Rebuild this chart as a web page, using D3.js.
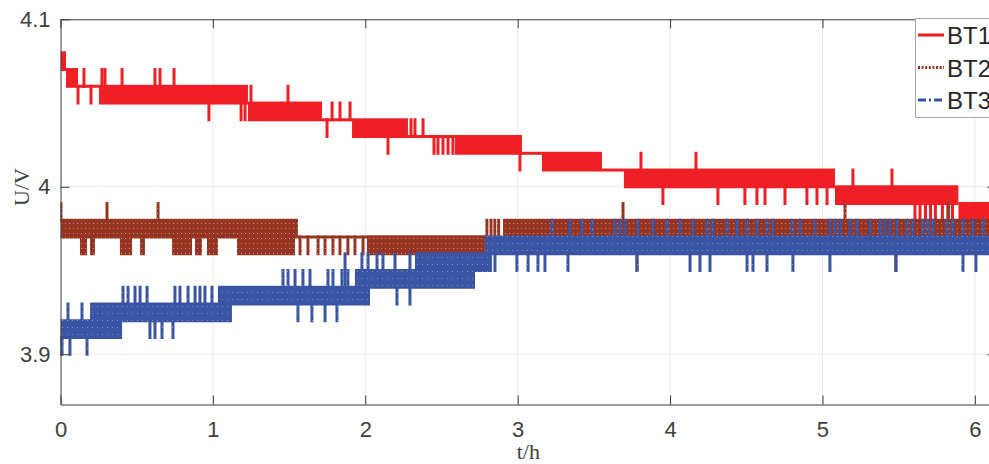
<!DOCTYPE html>
<html>
<head>
<meta charset="utf-8">
<script src="https://cdn.jsdelivr.net/npm/d3@7"></script>
<style>
  body { margin: 0; background: #fff; }
  svg { display: block; }
</style>
</head>
<body>
<svg id="chart" width="989" height="464"></svg>
<script>
// axis ticks
const xTicks = [0, 1, 2, 3, 4, 5, 6];
const yTicks = [3.9, 4.0, 4.1];
const seriesNames = ['BT1', 'BT2', 'BT3'];

// dense flicker regions of each cell voltage: [tStart h, tEnd h, vLow, vHigh]
const bt1Bands = [
  [0.000, 0.036, 4.07, 4.08],
  [0.036, 0.115, 4.06, 4.07],
  [0.115, 0.253, 4.06, 4.06],
  [0.253, 1.230, 4.05, 4.06],
  [1.230, 1.716, 4.04, 4.05],
  [1.716, 1.913, 4.04, 4.04],
  [1.913, 2.280, 4.03, 4.04],
  [2.280, 2.589, 4.03, 4.03],
  [2.589, 3.028, 4.02, 4.03],
  [3.028, 3.159, 4.02, 4.02],
  [3.159, 3.553, 4.01, 4.02],
  [3.553, 3.697, 4.01, 4.01],
  [3.697, 5.082, 4.00, 4.01],
  [5.082, 5.892, 3.99, 4.00],
  [5.892, 6.140, 3.98, 3.99]
];
// single excursions: [vFrom, vTo, [t ...]]
const bt1Spikes = [
  [4.06, 4.05, [0.115, 0.200]],
  [4.06, 4.07, [0.154, 0.272, 0.292, 0.404, 0.620, 0.653, 0.745]],
  [4.05, 4.04, [0.974, 1.185, 1.211]],
  [4.05, 4.06, [1.250, 1.493]],
  [4.04, 4.03, [1.749]],
  [4.04, 4.05, [1.782, 1.834, 1.900]],
  [4.03, 4.02, [2.149, 2.451, 2.477, 2.510, 2.543, 2.575]],
  [4.03, 4.04, [2.300, 2.326, 2.379]],
  [4.02, 4.01, [3.015]],
  [4.01, 4.02, [3.809, 4.170]],
  [4.00, 3.99, [3.953, 4.314, 4.491, 4.570, 4.623, 4.754, 4.898, 4.964, 5.030]],
  [4.00, 4.01, [5.200, 5.456]],
  [3.99, 3.98, [5.607, 5.640, 5.676, 5.709, 5.741, 5.787, 5.827, 5.853]]
];

const bt2Bands = [
  [0.000, 1.558, 3.97, 3.98],
  [0.128, 0.174, 3.96, 3.97],
  [0.194, 0.226, 3.96, 3.97],
  [0.390, 0.469, 3.96, 3.97],
  [0.522, 0.554, 3.96, 3.97],
  [0.732, 0.863, 3.96, 3.97],
  [0.883, 0.928, 3.96, 3.97],
  [0.961, 1.033, 3.96, 3.97],
  [1.158, 1.539, 3.96, 3.97],
  [1.558, 2.798, 3.97, 3.97],
  [2.011, 2.785, 3.96, 3.97],
  [2.904, 6.140, 3.97, 3.98]
];
const bt2Spikes = [
  [3.98, 3.99, [0.003, 0.305, 0.640, 3.691, 5.148, 5.823]],
  [3.97, 3.96, [1.572, 1.624, 1.690, 1.736, 1.788, 1.834, 1.886, 1.932, 1.985]],
  [3.97, 3.98, [2.798, 2.825, 2.850, 2.875]],
  [3.97, 3.95, [3.783, 5.482]]
];

const bt3Bands = [
  [0.000, 0.404, 3.91, 3.92],
  [0.194, 1.125, 3.92, 3.93],
  [1.033, 2.031, 3.93, 3.94],
  [1.932, 2.720, 3.94, 3.95],
  [2.326, 2.831, 3.95, 3.96],
  [2.785, 6.140, 3.96, 3.97]
];
const bt3Spikes = [
  [3.91, 3.90, [0.003, 0.010, 0.062, 0.174]],
  [3.92, 3.93, [0.049, 0.141]],
  [3.93, 3.94, [0.410, 0.443, 0.489, 0.522, 0.568, 0.751, 0.784, 0.837, 0.883, 0.915, 0.948, 0.994]],
  [3.92, 3.91, [0.587, 0.620, 0.666, 0.738]],
  [3.93, 3.92, [1.558, 1.650, 1.736, 1.814]],
  [3.94, 3.95, [1.460, 1.493, 1.539, 1.591, 1.637, 1.755, 1.788, 1.847, 1.886]],
  [3.94, 3.96, [1.867, 1.978]],
  [3.95, 3.96, [2.018, 2.077, 2.116, 2.195, 2.293]],
  [3.94, 3.93, [2.208, 2.293]],
  [3.96, 3.95, [2.785, 2.851, 2.995, 3.068, 3.133, 3.179, 3.330, 3.783, 4.131, 4.196,
                4.262, 4.505, 4.544, 4.636, 4.806, 5.049, 5.482, 5.922, 6.007]],
  [3.97, 3.98, [3.225, 3.343, 3.422, 3.488, 3.638, 3.671, 3.704, 3.789, 3.888, 3.980,
                4.065, 4.150, 4.242, 4.281, 4.373, 4.439, 4.505, 4.570, 4.636, 4.675,
                4.800, 4.852, 4.951, 5.049, 5.082, 5.115, 5.180, 5.226, 5.312, 5.377,
                5.410, 5.443, 5.489, 5.554, 5.593, 5.659, 5.692, 5.725, 5.817, 5.856,
                5.922, 5.987, 6.053]]
];

const colors = { BT1: '#ee1f25', BT2: '#973421', BT3: '#3a54a4' };
const lw = 3; // plotted line width

const svg = d3.select('#chart');
const plotLeft = 60.5, plotRight = 996.2, plotTop = 19.3, plotBottom = 404.5;

const x = d3.scaleLinear().domain([0, 6.14]).range([plotLeft, plotRight]);
const y = d3.scaleLinear().domain([3.87, 4.1]).range([plotBottom, plotTop]);

const defs = svg.append('defs');
defs.append('clipPath').attr('id', 'plotclip')
  .append('rect')
  .attr('x', plotLeft).attr('y', plotTop)
  .attr('width', plotRight - plotLeft).attr('height', plotBottom - plotTop);

// dotted / dash-dot textures for BT2 and BT3
const p2 = defs.append('pattern').attr('id', 'texBT2')
  .attr('patternUnits', 'userSpaceOnUse').attr('width', 4).attr('height', 5);
p2.append('rect').attr('width', 4).attr('height', 5).attr('fill', colors.BT2);
p2.append('rect').attr('x', 1).attr('y', 3).attr('width', 1).attr('height', 1)
  .attr('fill', '#fff').attr('opacity', 0.45);
const p3 = defs.append('pattern').attr('id', 'texBT3')
  .attr('patternUnits', 'userSpaceOnUse').attr('width', 5).attr('height', 7);
p3.append('rect').attr('width', 5).attr('height', 7).attr('fill', colors.BT3);
p3.append('rect').attr('x', 2).attr('y', 5).attr('width', 1).attr('height', 1)
  .attr('fill', '#fff').attr('opacity', 0.35);

// grid
const grid = svg.append('g').attr('stroke', '#ebebeb').attr('stroke-width', 1);
grid.selectAll('line.gx').data(xTicks.slice(1)).join('line')
  .attr('class', 'gx')
  .attr('x1', d => x(d)).attr('x2', d => x(d))
  .attr('y1', plotTop).attr('y2', plotBottom);
grid.selectAll('line.gy').data(yTicks.slice(0, 2)).join('line')
  .attr('class', 'gy')
  .attr('y1', d => y(d)).attr('y2', d => y(d))
  .attr('x1', plotLeft).attr('x2', plotRight);

const plot = svg.append('g').attr('clip-path', 'url(#plotclip)');

function drawSeries(bands, spikes, fill) {
  const g = plot.append('g').attr('fill', fill);
  g.selectAll('rect.band').data(bands).join('rect')
    .attr('class', 'band')
    .attr('x', d => x(d[0]))
    .attr('width', d => Math.max(x(d[1]) - x(d[0]), lw))
    .attr('y', d => y(d[3]) - lw / 2)
    .attr('height', d => y(d[2]) - y(d[3]) + lw);
  const flat = [];
  spikes.forEach(([a, b, ts]) => ts.forEach(t => flat.push([t, Math.min(a, b), Math.max(a, b)])));
  g.selectAll('rect.spike').data(flat).join('rect')
    .attr('class', 'spike')
    .attr('x', d => x(d[0]) - lw / 2)
    .attr('width', lw)
    .attr('y', d => y(d[2]) - lw / 2)
    .attr('height', d => y(d[1]) - y(d[2]) + lw);
}

drawSeries(bt1Bands, bt1Spikes, colors.BT1);
drawSeries(bt2Bands, bt2Spikes, 'url(#texBT2)');
drawSeries(bt3Bands, bt3Spikes, 'url(#texBT3)');

// axes
const axisColor = '#3a3a3a';
const tickFont = '"Liberation Sans", Arial, Helvetica, sans-serif';

const gxb = svg.append('g').attr('transform', `translate(0,${plotBottom})`)
  .call(d3.axisBottom(x).tickValues(xTicks).tickSizeInner(-9).tickSizeOuter(0).tickPadding(17)
    .tickFormat(d3.format('d')));
const gxt = svg.append('g').attr('transform', `translate(0,${plotTop})`)
  .call(d3.axisTop(x).tickValues(xTicks).tickSizeInner(-9).tickSizeOuter(0).tickFormat(''));
const gyl = svg.append('g').attr('transform', `translate(${plotLeft},0)`)
  .call(d3.axisLeft(y).tickValues(yTicks).tickSizeInner(-9).tickSizeOuter(0).tickPadding(10)
    .tickFormat(d => String(+d.toFixed(1))));
const gyr = svg.append('g').attr('transform', `translate(${plotRight},0)`)
  .call(d3.axisRight(y).tickValues(yTicks).tickSizeInner(-9).tickSizeOuter(0).tickFormat(''));

[gxb, gxt, gyl, gyr].forEach(g => {
  g.selectAll('path.domain').attr('stroke', axisColor).attr('stroke-width', 1);
  g.selectAll('.tick line').attr('stroke', axisColor);
  g.selectAll('.tick text').attr('fill', '#404040')
    .style('font-family', tickFont).style('font-size', '22px');
});

// axis labels
svg.append('text')
  .attr('x', (plotLeft + plotRight) / 2).attr('y', 459)
  .attr('text-anchor', 'middle')
  .style('font-family', '"Liberation Serif", "Times New Roman", serif')
  .style('font-size', '22px').attr('fill', '#404040')
  .text('t/h');
svg.append('text')
  .attr('transform', 'translate(29,187) rotate(-90)')
  .attr('text-anchor', 'middle')
  .style('font-family', '"Liberation Serif", "Times New Roman", serif')
  .style('font-size', '22px').attr('fill', '#404040')
  .text('U/V');

// legend
const legend = svg.append('g');
legend.append('rect')
  .attr('x', 915.5).attr('y', 18.5).attr('width', 110).attr('height', 99)
  .attr('fill', '#fff').attr('stroke', '#a8a8a8').attr('stroke-width', 1);
const legendY = d3.scalePoint().domain(seriesNames).range([35, 100]);
const dash = { BT1: null, BT2: '2,1.6', BT3: '8,3,2,3' };
const items = legend.selectAll('g.item').data(seriesNames).join('g').attr('class', 'item');
items.append('line')
  .attr('x1', 918).attr('x2', 944)
  .attr('y1', d => legendY(d)).attr('y2', d => legendY(d))
  .attr('stroke', d => colors[d]).attr('stroke-width', lw)
  .attr('stroke-dasharray', d => dash[d]);
items.append('text')
  .attr('x', 947).attr('y', d => legendY(d) + 9)
  .style('font-family', tickFont).style('font-size', '24px').attr('fill', '#262626')
  .text(d => d);
</script>
</body>
</html>
